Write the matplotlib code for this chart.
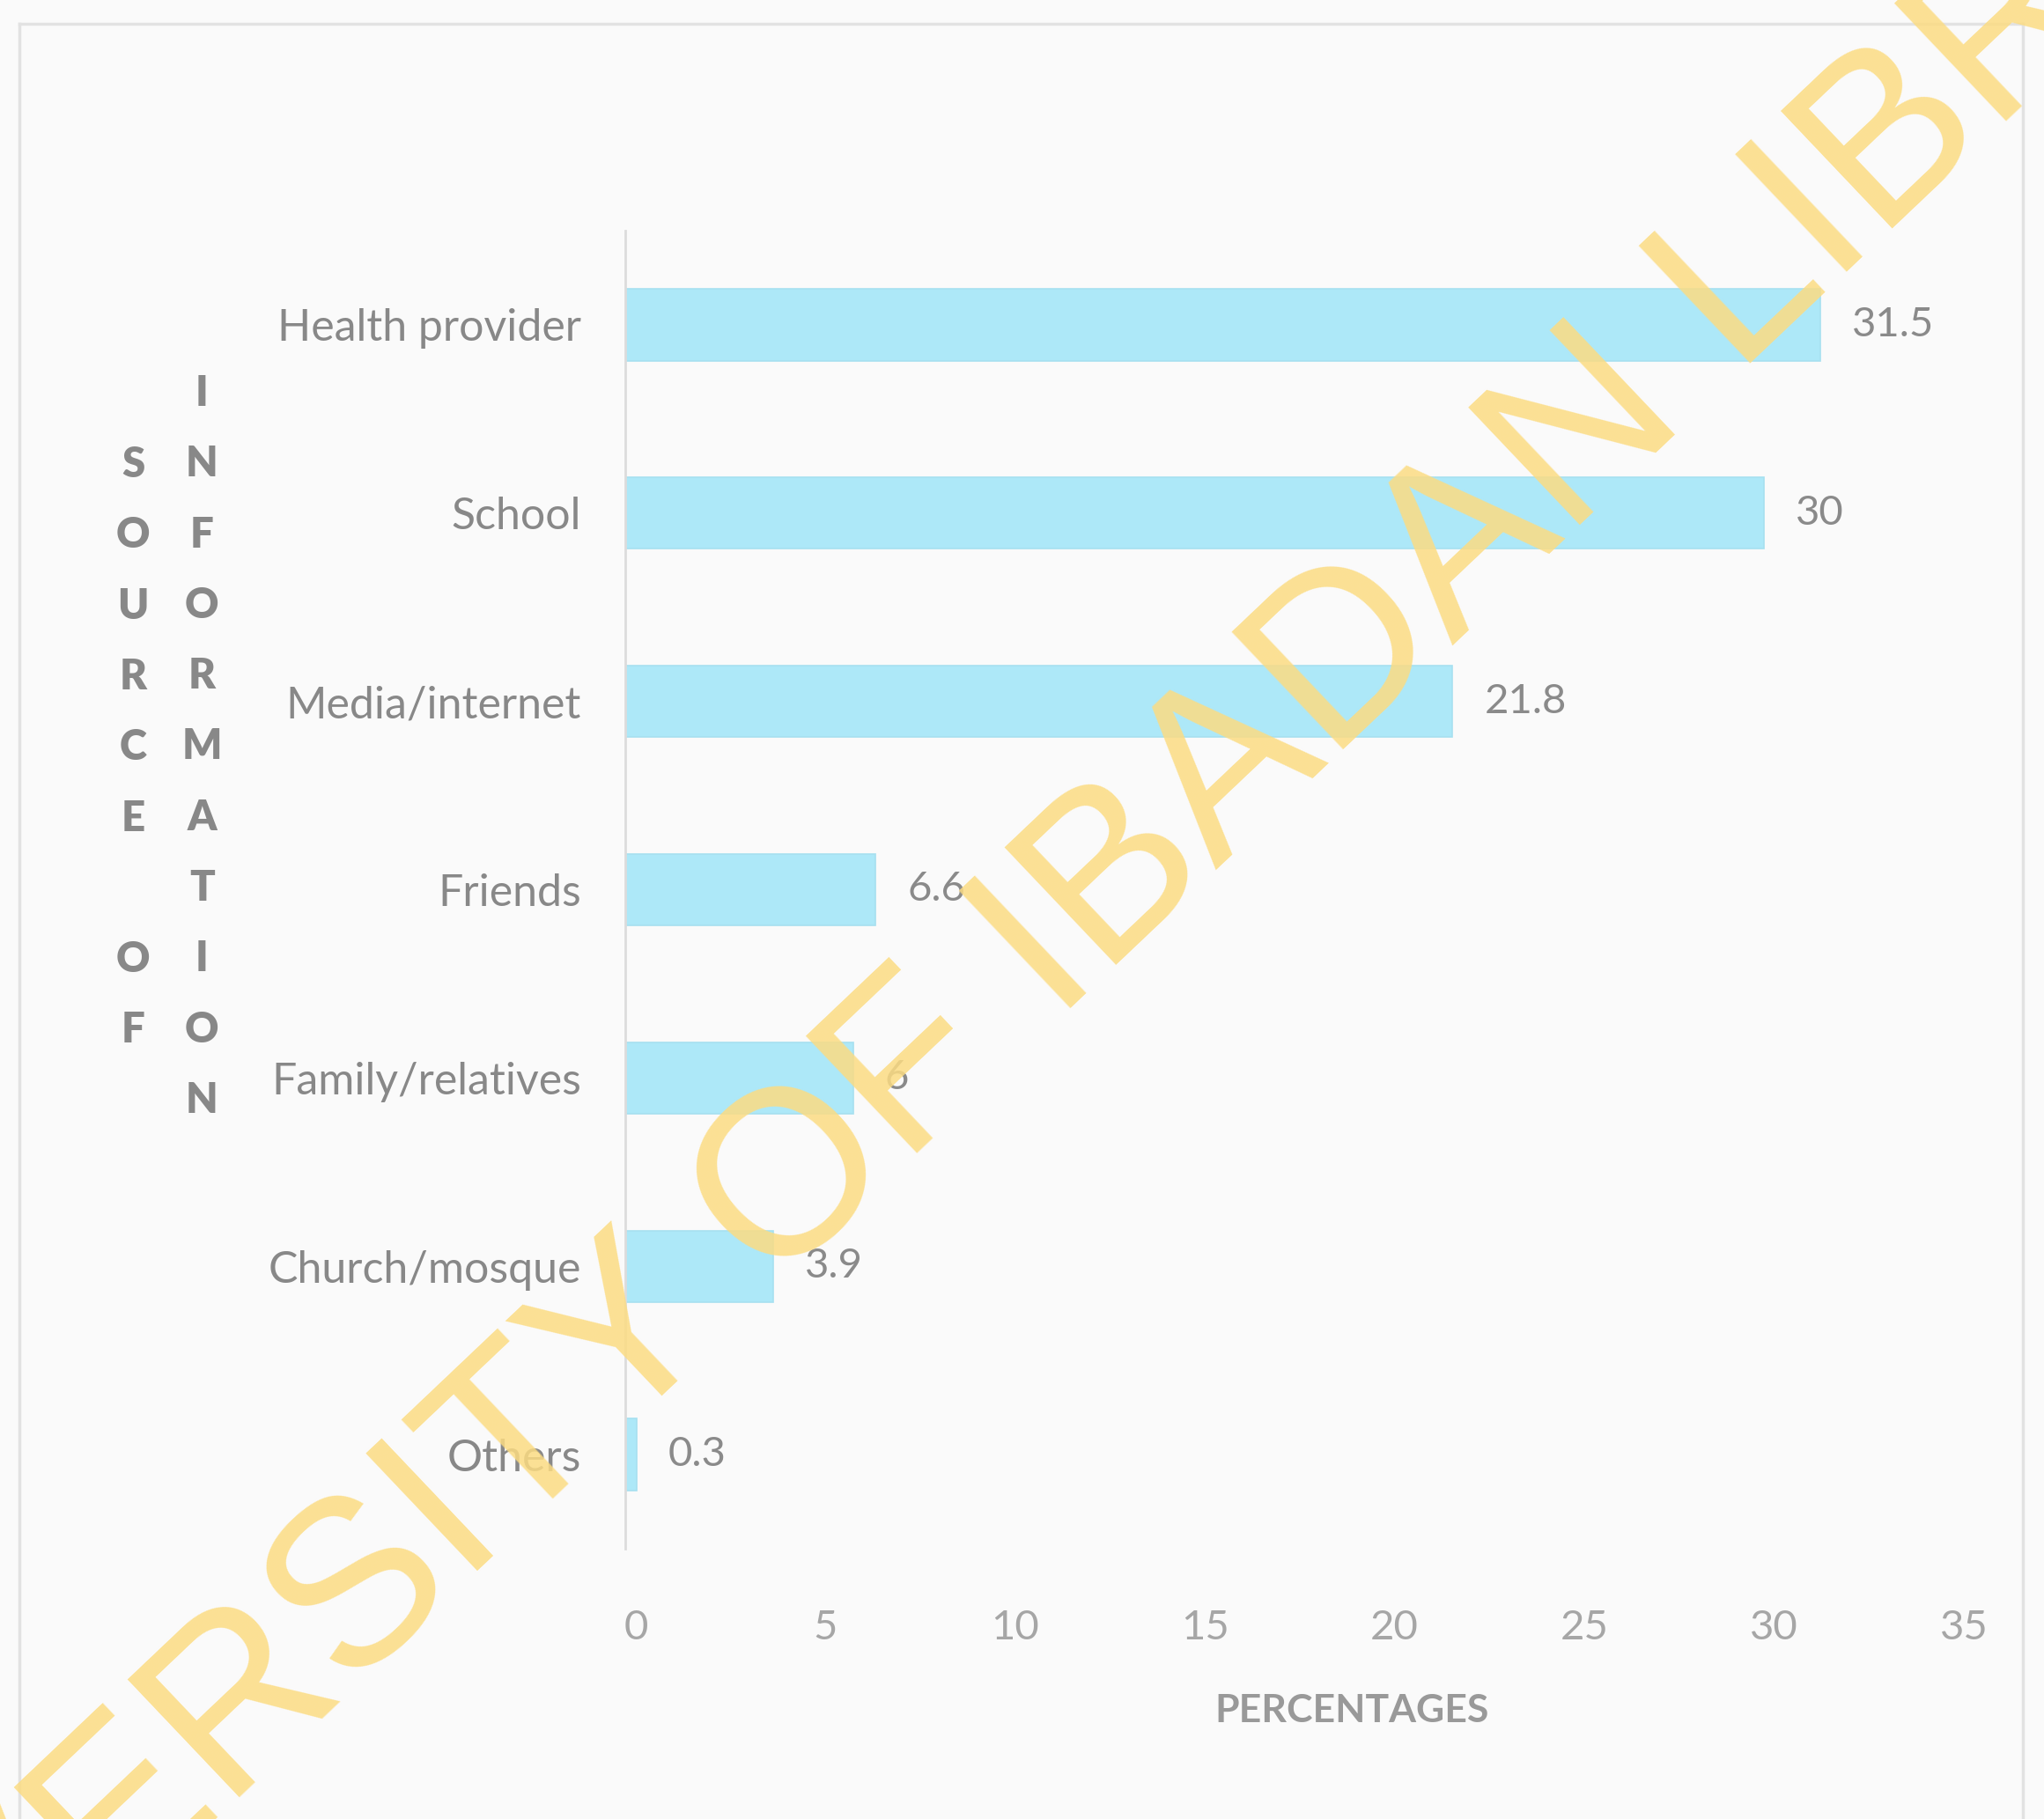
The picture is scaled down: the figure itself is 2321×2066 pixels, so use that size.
import matplotlib.pyplot as plt
import matplotlib.transforms as mtransforms
from matplotlib.lines import Line2D
import numpy as np

# data
sources = ["Health provider", "School", "Media/internet", "Friends",
           "Family/relatives", "Church/mosque", "Others"]
percentages = [31.5, 30, 21.8, 6.6, 6, 3.9, 0.3]
x_ticks = [0, 5, 10, 15, 20, 25, 30, 35]
x_title = "PERCENTAGES"
y_title_cols = ["SOURCE OF", "INFORMATION"]
watermark = "UNIVERSITY OF IBADAN LIBRARY"

plt.rcParams['font.family'] = ['Lato', 'DejaVu Sans']

fig = plt.figure(figsize=(23.21, 20.66), dpi=100, facecolor='#fafafa')
ax = fig.add_axes([0.3059, 0.1486, 0.6497, 0.7246])
ax.set_facecolor('none')

y = np.arange(len(sources))
ax.barh(y, percentages, height=0.38, color='#ade8f8', edgecolor='#a6e0f0', linewidth=1.2)
ax.set_ylim(len(sources) - 0.5, -0.5)
ax.set_xlim(0, 35)

ax.set_yticks(y)
ax.set_yticklabels(sources, fontsize=36, color='#888888')
ax.set_xticks(x_ticks)
ax.set_xticklabels([str(t) for t in x_ticks], fontsize=34, color='#a6a6a6')
ax.tick_params(axis='y', length=0, pad=36)
ax.tick_params(axis='x', length=0, pad=50)
shift = mtransforms.ScaledTranslation(12 / 100, 0, fig.dpi_scale_trans)
for lbl in ax.get_xticklabels():
    lbl.set_transform(lbl.get_transform() + shift)

for s in ['top', 'right', 'bottom']:
    ax.spines[s].set_visible(False)
ax.spines['left'].set_color('#dcdcdc')
ax.spines['left'].set_linewidth(2)

for yi, v in zip(y, percentages):
    ax.annotate(f"{v:g}", (v, yi), xytext=(26, 0), textcoords='offset points',
                ha='left', va='center', fontsize=34, color='#8a8a8a')

fig.text(0.6614, 0.0595, x_title, ha='center', va='center', fontsize=32,
         fontweight='bold', color='#999999')

# stacked letters of the y title
col_x = [0.0651, 0.0988]
col_top = [528, 447]
for cx, top, word in zip(col_x, col_top, y_title_cols):
    for i, ch in enumerate(word):
        if ch == ' ':
            continue
        fig.text(cx, 1 - (top + i * 80.3) / 2066, ch, ha='center', va='center',
                 fontsize=34, fontweight='heavy', color='#888888')

# faint scan frame
frame_kw = dict(color='#e2e2e2', linewidth=2.5, transform=fig.transFigure)
fig.add_artist(Line2D([0.0095, 0.0095], [0, 0.987], **frame_kw))
fig.add_artist(Line2D([0.0095, 0.9896], [0.987, 0.987], **frame_kw))
fig.add_artist(Line2D([0.9896, 0.9896], [0, 0.987], **frame_kw))

fig.text(0.5095, 0.4767, watermark, ha='center', va='center', rotation=43.5,
         rotation_mode='anchor', fontsize=192, family='Liberation Sans',
         color='#fcdc82', alpha=0.85, zorder=10)

fig.savefig('out.png', dpi=100, facecolor=fig.get_facecolor())
